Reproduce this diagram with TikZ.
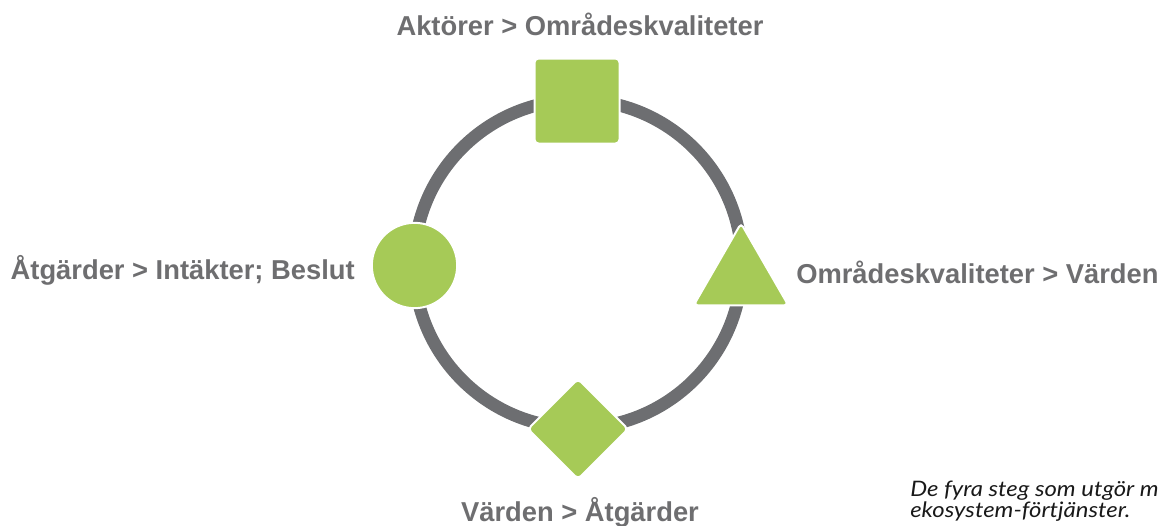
\documentclass[tikz,border=0pt]{standalone}
\usepackage{fontspec}
\setmainfont{Liberation Sans}
\newfontfamily\capfont[FakeStretch=1.12]{Lato}
\usetikzlibrary{shapes.geometric}
\definecolor{leaf}{RGB}{166,202,87}
\definecolor{ringgray}{RGB}{109,110,113}
\definecolor{labelgray}{RGB}{110,110,112}
\tikzset{
  px/.style={x=0.75pt,y=-0.75pt},
  stage/.style={fill=leaf,draw=white,line width=1.5pt,inner sep=0pt,outer sep=0pt},
  steplabel/.style={text=labelgray,font=\bfseries\fontsize{20.5}{24}\selectfont,inner sep=0pt},
  caption/.style={text=black!90,font=\capfont\itshape\fontsize{16}{16}\selectfont,inner sep=0pt,anchor=base west},
}
\begin{document}
\begin{tikzpicture}[px]
  \useasboundingbox (0,0) rectangle (1159,525);
  \clip (0,0) rectangle (1159,525);
  % the cycle
  \coordinate (c) at (578,264);
  \draw[ringgray,line width=9.5pt] (c) circle[radius=164];
  % the four stages
  \node[stage,rectangle,rounded corners=3pt,minimum size=63.75pt] (sq) at (577,101) {};
  \node[stage,regular polygon,regular polygon sides=3,rounded corners=3pt,minimum size=82pt] (tri) at (741,278) {};
  \node[stage,diamond,rounded corners=3pt,minimum width=75pt,minimum height=75pt] (dia) at (578,429) {};
  \node[stage,circle,minimum size=64pt] (circ) at (414.5,265.5) {};
  % stage labels
  \node[steplabel] (ltop) at (580,24) {Aktörer > Områdeskvaliteter};
  \node[steplabel,anchor=east] (lleft) at (355,270) {Åtgärder > Intäkter; Beslut};
  \node[steplabel,anchor=west] (lright) at (796,272) {Områdeskvaliteter > Värden};
  \node[steplabel,anchor=base] (lbot) at (580,521) {Värden > Åtgärder};
  % caption
  \node[caption] (cap1) at (910,496) {De fyra steg som utgör m};
  \node[caption] (cap2) at (910,517) {ekosystem-förtjänster.};
\end{tikzpicture}
\end{document}
